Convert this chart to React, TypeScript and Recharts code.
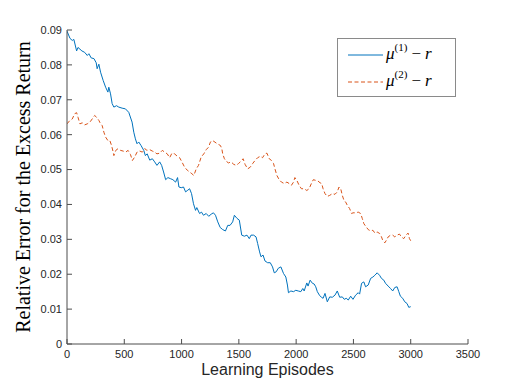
import React from 'react';
import { LineChart, Line, XAxis, YAxis, Legend } from 'recharts';

const xTicks = [0, 500, 1000, 1500, 2000, 2500, 3000, 3500];
const yTicks = [0, 0.01, 0.02, 0.03, 0.04, 0.05, 0.06, 0.07, 0.08, 0.09];

const series1Name = 'μ(1) − r';
const series2Name = 'μ(2) − r';

const episodes1 = [0, 26, 46, 60, 84, 96, 130, 154, 177, 191, 211, 235, 255, 263, 278, 293, 316, 337, 357, 365, 380, 394, 409, 432, 452, 481, 510, 539, 568, 583, 597, 611, 626, 646, 670, 684, 700, 722, 745, 765, 785, 809, 826, 843, 861, 881, 902, 924, 948, 965, 977, 997, 1017, 1035, 1055, 1070, 1087, 1104, 1122, 1133, 1157, 1174, 1191, 1215, 1237, 1258, 1278, 1296, 1316, 1337, 1359, 1383, 1403, 1423, 1446, 1461, 1484, 1504, 1525, 1548, 1571, 1591, 1606, 1629, 1650, 1664, 1681, 1693, 1711, 1728, 1751, 1774, 1794, 1809, 1826, 1844, 1867, 1890, 1910, 1924, 1933, 1954, 1977, 1997, 2018, 2041, 2058, 2070, 2093, 2104, 2122, 2142, 2157, 2171, 2185, 2203, 2220, 2235, 2252, 2272, 2293, 2316, 2339, 2359, 2380, 2403, 2420, 2437, 2455, 2476, 2496, 2519, 2542, 2554, 2571, 2591, 2606, 2629, 2650, 2670, 2687, 2707, 2728, 2745, 2765, 2780, 2803, 2824, 2843, 2861, 2881, 2896, 2910, 2930, 2948, 2968, 2983, 3000];
const values1 = [0.0897, 0.0876, 0.087, 0.0873, 0.084, 0.085, 0.084, 0.0836, 0.0827, 0.0832, 0.082, 0.0818, 0.0806, 0.0789, 0.0802, 0.0779, 0.0755, 0.0736, 0.0722, 0.0736, 0.0717, 0.0689, 0.0679, 0.0683, 0.0679, 0.0676, 0.0674, 0.0664, 0.0636, 0.0607, 0.0588, 0.0574, 0.0579, 0.0569, 0.0555, 0.054, 0.0545, 0.0527, 0.0531, 0.0522, 0.0512, 0.0522, 0.0512, 0.0493, 0.0471, 0.0477, 0.0474, 0.0471, 0.0464, 0.0477, 0.045, 0.0448, 0.045, 0.0436, 0.0441, 0.0445, 0.0431, 0.0402, 0.0383, 0.0391, 0.0374, 0.0378, 0.0369, 0.0374, 0.0366, 0.0372, 0.0376, 0.0369, 0.035, 0.0334, 0.0328, 0.0324, 0.034, 0.034, 0.035, 0.0369, 0.036, 0.0355, 0.0312, 0.0309, 0.0312, 0.0302, 0.0312, 0.0312, 0.0307, 0.0288, 0.0264, 0.025, 0.0255, 0.0238, 0.0233, 0.0233, 0.0221, 0.0204, 0.0207, 0.0217, 0.0221, 0.0202, 0.0192, 0.0169, 0.0147, 0.0152, 0.015, 0.0154, 0.0152, 0.015, 0.0159, 0.0152, 0.0175, 0.0166, 0.0183, 0.0174, 0.0172, 0.0164, 0.015, 0.014, 0.0134, 0.0131, 0.0145, 0.0121, 0.0135, 0.0134, 0.014, 0.0152, 0.0134, 0.0135, 0.0128, 0.0131, 0.0126, 0.0137, 0.0128, 0.014, 0.0147, 0.0143, 0.0174, 0.0178, 0.0164, 0.0169, 0.0188, 0.0192, 0.0197, 0.0204, 0.0197, 0.0188, 0.0183, 0.0174, 0.0166, 0.0159, 0.0152, 0.0162, 0.0164, 0.015, 0.0137, 0.0131, 0.0121, 0.0116, 0.0105, 0.0107];

const episodes2 = [0, 26, 46, 67, 84, 96, 113, 133, 154, 177, 200, 220, 241, 258, 278, 293, 307, 322, 337, 357, 374, 389, 403, 409, 426, 446, 467, 490, 513, 533, 554, 571, 591, 611, 635, 658, 678, 698, 722, 745, 765, 785, 809, 832, 852, 875, 896, 916, 939, 963, 983, 1003, 1026, 1050, 1070, 1090, 1107, 1128, 1148, 1171, 1194, 1215, 1235, 1252, 1264, 1281, 1302, 1322, 1339, 1351, 1359, 1374, 1389, 1409, 1432, 1455, 1476, 1496, 1519, 1537, 1554, 1577, 1600, 1620, 1641, 1664, 1687, 1707, 1728, 1745, 1765, 1785, 1803, 1815, 1832, 1852, 1872, 1896, 1919, 1939, 1959, 1977, 1989, 2006, 2026, 2046, 2070, 2093, 2113, 2133, 2150, 2171, 2191, 2209, 2223, 2235, 2252, 2272, 2293, 2316, 2339, 2359, 2374, 2389, 2403, 2417, 2432, 2446, 2467, 2484, 2496, 2519, 2542, 2563, 2577, 2591, 2606, 2629, 2650, 2670, 2687, 2707, 2728, 2745, 2757, 2774, 2789, 2803, 2824, 2843, 2861, 2881, 2902, 2919, 2939, 2959, 2977, 2989, 3000];
const values2 = [0.0631, 0.0641, 0.0645, 0.066, 0.0663, 0.065, 0.0631, 0.0634, 0.0628, 0.0631, 0.0636, 0.0645, 0.0655, 0.065, 0.0641, 0.0631, 0.0626, 0.0607, 0.0593, 0.0583, 0.0583, 0.0569, 0.055, 0.054, 0.0555, 0.056, 0.0555, 0.0553, 0.055, 0.0555, 0.0543, 0.0526, 0.0536, 0.055, 0.0553, 0.055, 0.056, 0.0555, 0.0557, 0.0553, 0.055, 0.0545, 0.0547, 0.0555, 0.055, 0.0545, 0.0534, 0.0547, 0.0545, 0.0538, 0.0534, 0.0522, 0.0507, 0.0498, 0.0493, 0.0488, 0.0483, 0.0502, 0.0512, 0.0536, 0.0545, 0.0557, 0.0564, 0.0579, 0.0583, 0.0581, 0.0576, 0.0572, 0.0569, 0.056, 0.0545, 0.0531, 0.0524, 0.0519, 0.0522, 0.0515, 0.0512, 0.0517, 0.0524, 0.0531, 0.0515, 0.0502, 0.0507, 0.0517, 0.0526, 0.0534, 0.0538, 0.0534, 0.0545, 0.0547, 0.0531, 0.0526, 0.0517, 0.0502, 0.0483, 0.0471, 0.0464, 0.046, 0.0464, 0.046, 0.0455, 0.0464, 0.0477, 0.0469, 0.0455, 0.0445, 0.0445, 0.044, 0.0445, 0.046, 0.0471, 0.0469, 0.0467, 0.0462, 0.046, 0.0445, 0.0431, 0.0423, 0.0426, 0.0431, 0.0429, 0.0436, 0.045, 0.0445, 0.0426, 0.0412, 0.0407, 0.0398, 0.0388, 0.0374, 0.0376, 0.0376, 0.0378, 0.0374, 0.036, 0.0345, 0.0338, 0.0328, 0.0324, 0.0326, 0.0318, 0.0321, 0.0317, 0.0307, 0.0296, 0.029, 0.0298, 0.0307, 0.0312, 0.0312, 0.0307, 0.0312, 0.0315, 0.0307, 0.0302, 0.0312, 0.0318, 0.0302, 0.0296];

const data1 = episodes1.map((e, i) => ({ episode: e, value: values1[i] }));
const data2 = episodes2.map((e, i) => ({ episode: e, value: values2[i] }));

const BLUE = '#0072BD';
const ORANGE = '#D95319';
const AXIS = '#4d4d4d';
const TEXT = '#262626';
const SANS = '"Liberation Sans", Arial, Helvetica, sans-serif';
const SERIF = '"Liberation Serif", "DejaVu Serif", serif';

const CHART_W = 518;
const CHART_H = 389;
const MARGIN = { top: 30, right: 50, bottom: 0, left: 0 };
const X_AXIS_H = 45;
const Y_AXIS_W = 67;
const PLOT_TOP = MARGIN.top;
const PLOT_BOTTOM = CHART_H - MARGIN.bottom - X_AXIS_H;

const LegendMath = ({ idx }: { idx: string }) => (
  <span style={{ fontFamily: SERIF, fontSize: 17, color: '#000', whiteSpace: 'nowrap' }}>
    <i>μ</i>
    <sup style={{ fontSize: 11, verticalAlign: 'top', position: 'relative', top: -3 }}>({idx})</sup>
    <span style={{ margin: '0 4px' }}>−</span>
    <i>r</i>
  </span>
);

const LegendBox = () => (
  <div
    style={{
      width: 117,
      height: 57,
      border: '1px solid #8a8a8a',
      background: '#fff',
      boxSizing: 'content-box',
      position: 'relative',
    }}
  >
    <div style={{ position: 'absolute', left: 10, top: 5, display: 'flex', alignItems: 'center' }}>
      <svg width={36} height={20}>
        <line x1={0} y1={11} x2={35} y2={11} stroke={BLUE} strokeWidth={1} />
      </svg>
      <span style={{ marginLeft: 2 }}><LegendMath idx="1" /></span>
    </div>
    <div style={{ position: 'absolute', left: 10, top: 32, display: 'flex', alignItems: 'center' }}>
      <svg width={36} height={20}>
        <line x1={0} y1={11} x2={35} y2={11} stroke={ORANGE} strokeWidth={1} strokeDasharray="4 2.5" />
      </svg>
      <span style={{ marginLeft: 2 }}><LegendMath idx="2" /></span>
    </div>
  </div>
);

export default function App() {
  const yLabelX = 23;
  const yLabelY = (PLOT_TOP + PLOT_BOTTOM) / 2;
  return (
    <div style={{ position: 'absolute', left: 0, top: 0, width: CHART_W, height: CHART_H, background: '#fff' }}>
      <LineChart width={CHART_W} height={CHART_H} margin={MARGIN}>
        <XAxis
          dataKey="episode"
          type="number"
          domain={[0, 3500]}
          ticks={xTicks}
          allowDataOverflow
          height={X_AXIS_H}
          stroke={AXIS}
          tickSize={-5}
          tickMargin={11}
          tick={{ fill: TEXT, fontSize: 11, fontFamily: SANS }}
          label={{
            content: (props: any) => {
              const vb = props.viewBox || { x: Y_AXIS_W, y: PLOT_BOTTOM, width: 401, height: X_AXIS_H };
              return (
                <text
                  x={vb.x + vb.width / 2}
                  y={PLOT_BOTTOM + 31}
                  textAnchor="middle"
                  fontSize={16}
                  fontFamily={SANS}
                  fill={TEXT}
                >
                  Learning Episodes
                </text>
              );
            },
          }}
        />
        <XAxis
          xAxisId="top"
          orientation="top"
          type="number"
          domain={[0, 3500]}
          ticks={xTicks}
          height={0}
          stroke={AXIS}
          tickSize={-5}
          tick={false}
        />
        <YAxis
          type="number"
          domain={[0, 0.09]}
          ticks={yTicks}
          width={Y_AXIS_W}
          stroke={AXIS}
          tickSize={-5}
          tickMargin={10}
          tickFormatter={(v: number) => (v === 0 ? '0' : v.toFixed(2))}
          tick={{ fill: TEXT, fontSize: 11, fontFamily: SANS }}
          label={{
            content: () => (
              <text
                x={yLabelX}
                y={yLabelY}
                transform={`rotate(-90 ${yLabelX} ${yLabelY})`}
                textAnchor="middle"
                dominantBaseline="central"
                fontSize={20}
                fontFamily={SERIF}
                fill="#000"
              >
                Relative Error for the Excess Return
              </text>
            ),
          }}
        />
        <YAxis
          yAxisId="right"
          orientation="right"
          type="number"
          domain={[0, 0.09]}
          ticks={yTicks}
          width={0}
          stroke={AXIS}
          tickSize={-5}
          tick={false}
        />
        <Legend
          layout="vertical"
          align="center"
          verticalAlign="middle"
          content={() => <LegendBox />}
          wrapperStyle={{ left: 337, top: 38, width: 119, height: 59 }}
        />
        <Line
          data={data1}
          dataKey="value"
          name={series1Name}
          type="linear"
          stroke={BLUE}
          strokeWidth={1}
          dot={false}
          activeDot={false}
          isAnimationActive={false}
        />
        <Line
          data={data2}
          dataKey="value"
          name={series2Name}
          type="linear"
          stroke={ORANGE}
          strokeWidth={1}
          strokeDasharray="4 2.5"
          dot={false}
          activeDot={false}
          isAnimationActive={false}
        />
      </LineChart>
    </div>
  );
}
